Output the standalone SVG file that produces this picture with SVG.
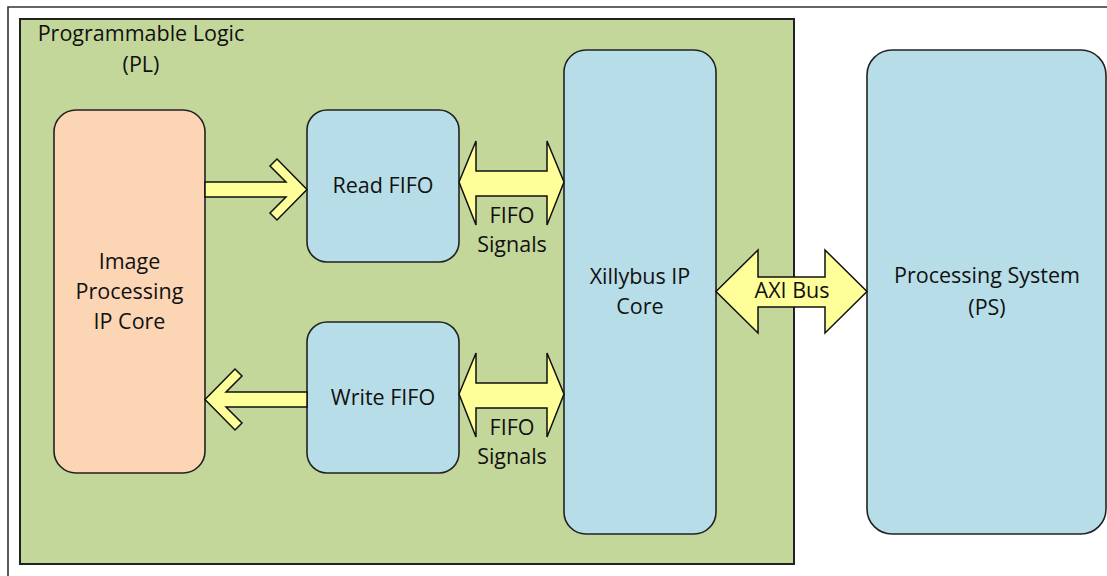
<svg xmlns="http://www.w3.org/2000/svg" width="1107" height="576" viewBox="0 0 1107 576">
<style>
text{font-family:"Open Sans","Liberation Sans",sans-serif;font-size:21.5px;fill:#111;text-anchor:middle}
.box{stroke:#222;stroke-width:1.6}
.blue{fill:#B7DEE8}
.arrow{fill:#FFFF99;stroke:#111;stroke-width:1.5;stroke-linejoin:miter}
</style>
<rect x="0" y="0" width="1107" height="576" fill="#fff"/>
<path d="M8,576 V7 H1107" fill="none" stroke="#333" stroke-width="1.6"/>
<g id="pl">
<rect x="20" y="19" width="774" height="545" fill="#C4D79B" stroke="#222" stroke-width="2"/>
<text x="141" y="41">Programmable Logic</text>
<text x="141" y="72">(PL)</text>
</g>
<g id="image-processing">
<rect class="box" x="54" y="110" width="151" height="363" rx="22" fill="#FCD5B5"/>
<text x="129.5" y="269">Image</text>
<text x="129.5" y="299">Processing</text>
<text x="129.5" y="329">IP Core</text>
</g>
<g id="read-fifo">
<rect class="box blue" x="307" y="110" width="152" height="152" rx="20"/>
<text x="383" y="193">Read FIFO</text>
</g>
<g id="write-fifo">
<rect class="box blue" x="307" y="322" width="152" height="151" rx="20"/>
<text x="383" y="405">Write FIFO</text>
</g>
<g id="xillybus">
<rect class="box blue" x="564" y="50" width="152" height="484" rx="22"/>
<text x="640" y="284">Xillybus IP</text>
<text x="640" y="314">Core</text>
</g>
<g id="ps">
<rect class="box blue" x="867" y="50" width="239" height="484" rx="25"/>
<text x="987" y="283">Processing System</text>
<text x="987" y="315">(PS)</text>
</g>
<g id="connectors">
<polygon class="arrow" points="205,182 286,182 270,166 277,159 307,189.5 277,220 270,213 286,197 205,197"/>
<polygon class="arrow" points="307,392 226,392 242,376 235,369 205,399.5 235,430 242,423 226,407 307,407"/>
<polygon class="arrow" points="459,182 476,141 476,171 547,171 547,141 564,182 547,225 547,196 476,196 476,225"/>
<polygon class="arrow" points="459,394 476,353 476,383 547,383 547,353 564,394 547,437 547,408 476,408 476,437"/>
<polygon class="arrow" points="716,291.5 758,250 758,277 825,277 825,250 867,291.5 825,333 825,307 758,307 758,333"/>
<text x="512" y="223">FIFO</text>
<text x="512" y="252">Signals</text>
<text x="512" y="435">FIFO</text>
<text x="512" y="464">Signals</text>
<text x="792" y="298">AXI Bus</text>
</g>
</svg>
